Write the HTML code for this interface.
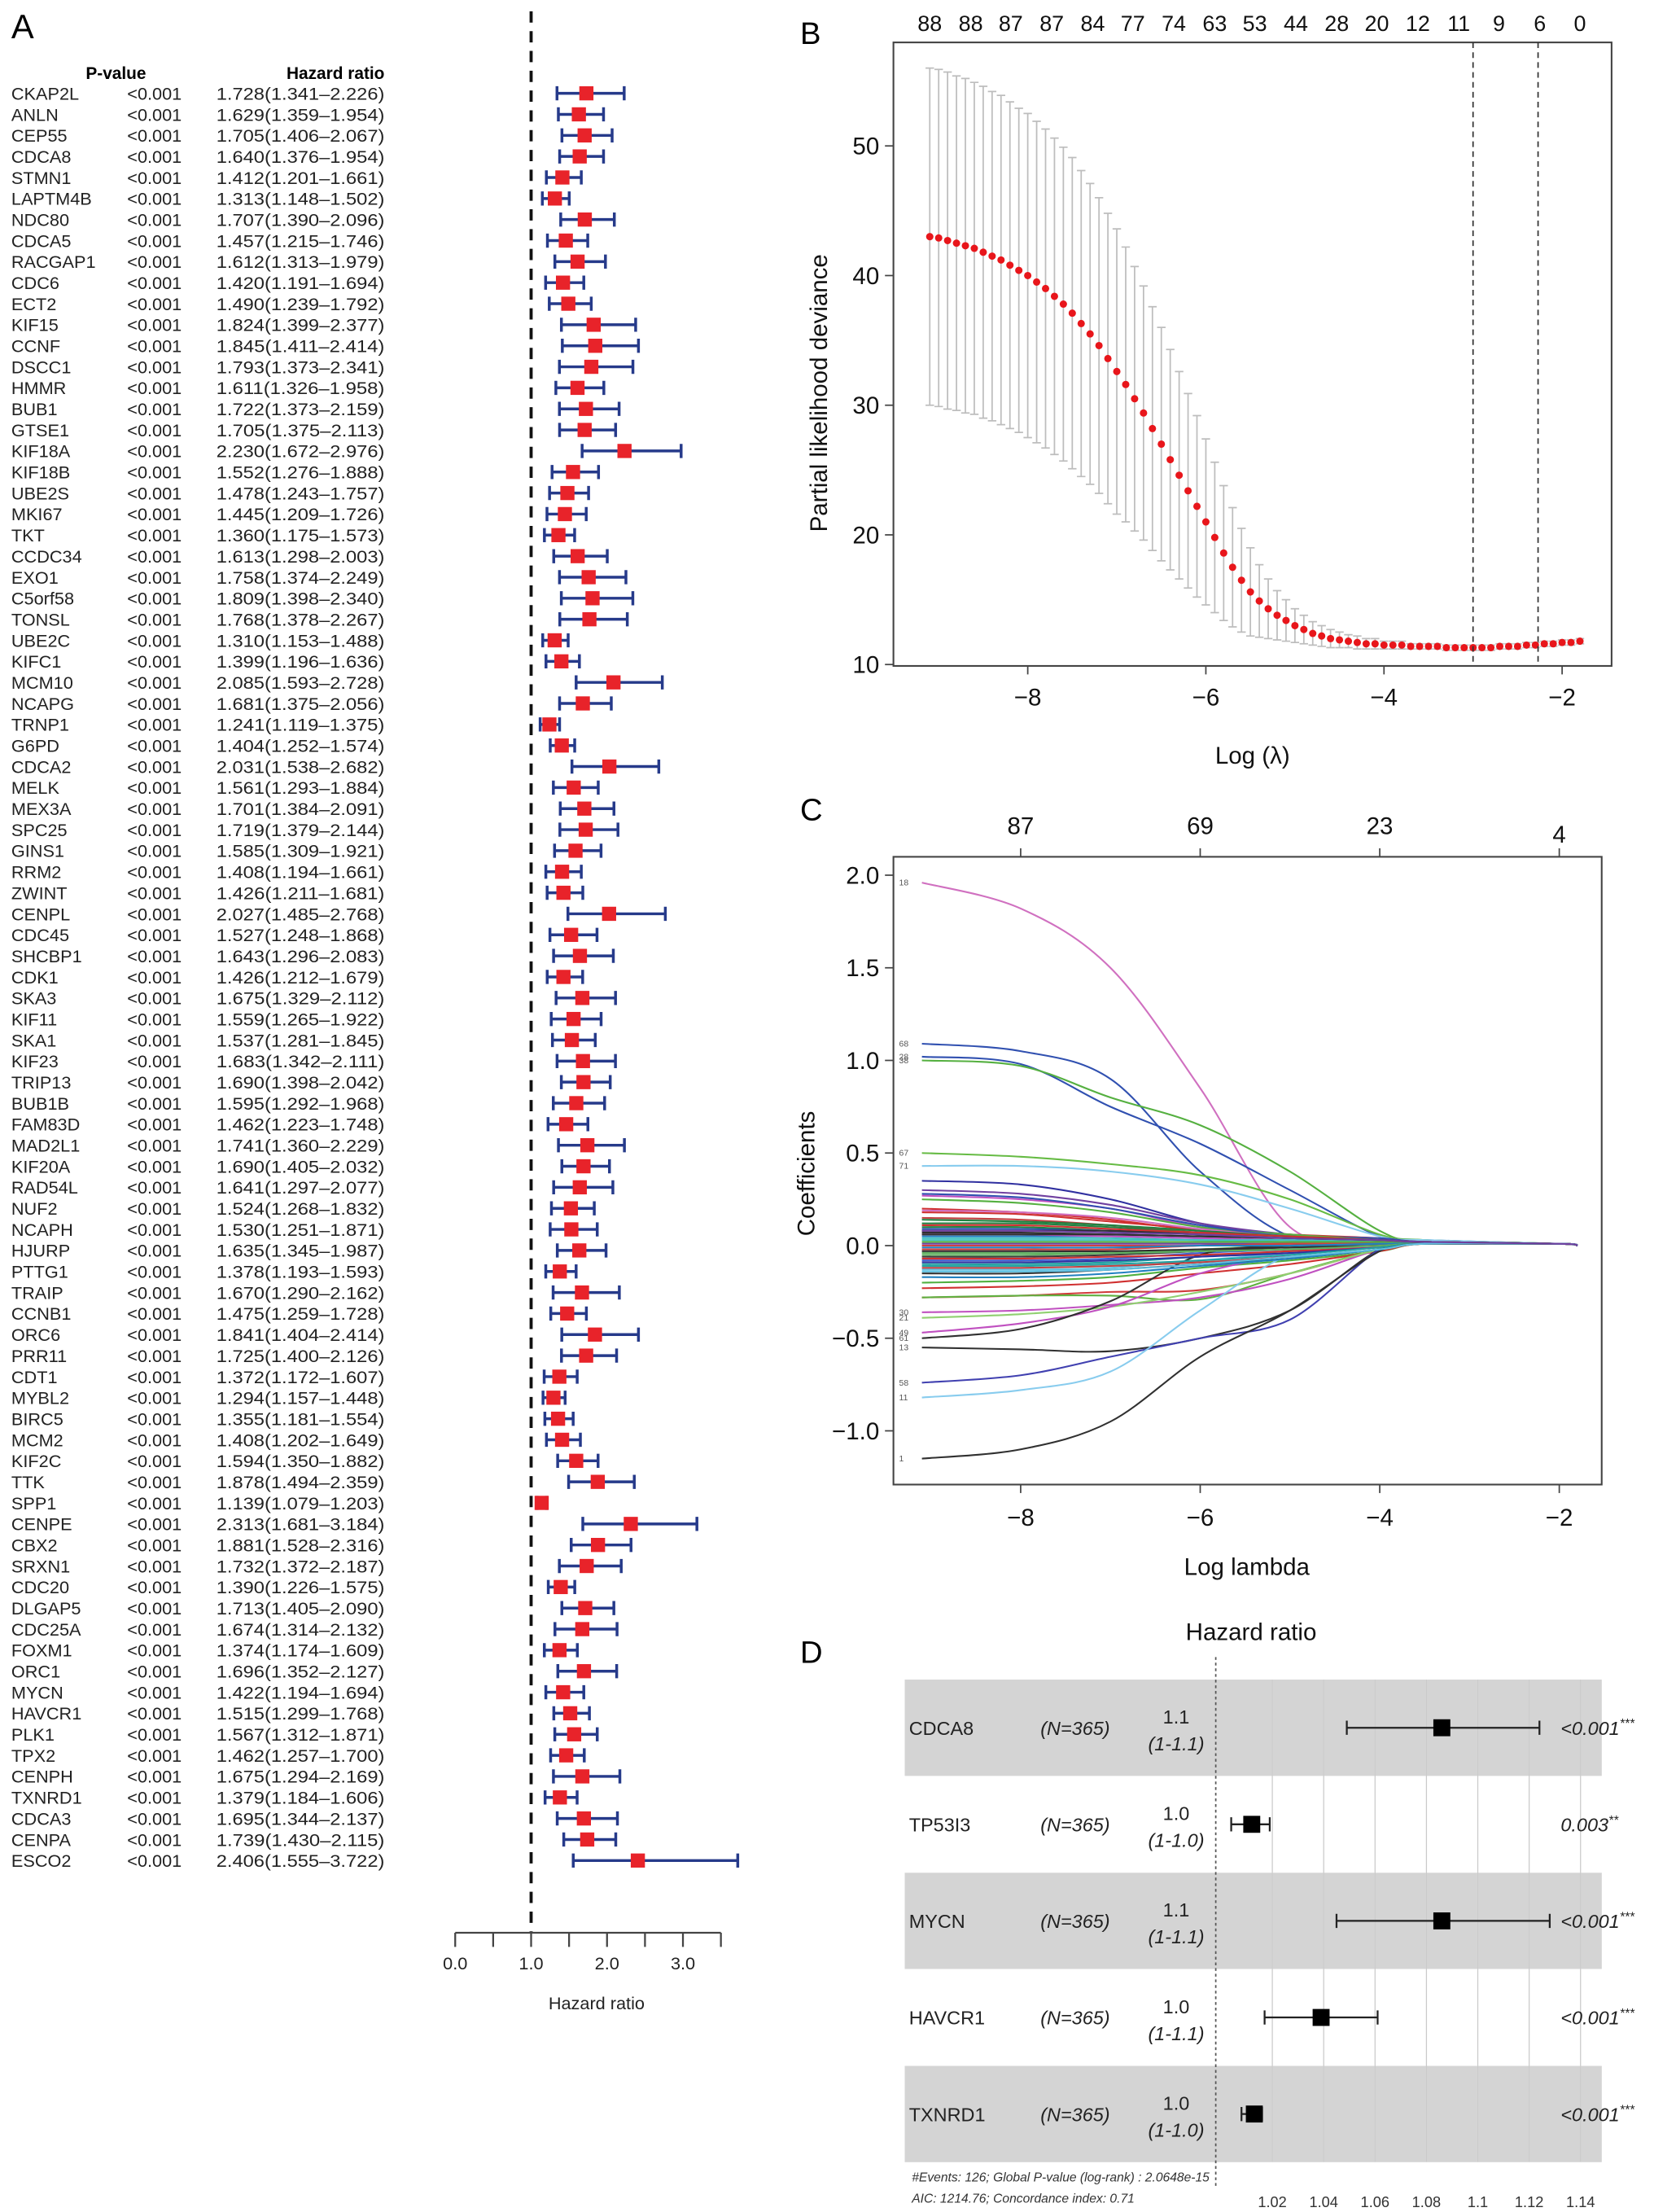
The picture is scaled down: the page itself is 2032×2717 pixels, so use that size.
<!DOCTYPE html>
<html><head><meta charset="utf-8">
<style>
html,body{margin:0;padding:0;background:#fff;}
svg{display:block;font-family:"Liberation Sans",sans-serif;}
</style></head>
<body>
<svg id="fig" xmlns="http://www.w3.org/2000/svg" width="2032" height="2717" viewBox="0 0 1170 1564.5" preserveAspectRatio="none">
<rect x="0" y="0" width="1170" height="1564.5" fill="#fff"/>
<g id="pa"></g>
<g id="pb"></g>
<g id="pc"></g>
<g id="pd"></g>
</svg>
<script>
// ---------- Panel A data ----------
const genesA = ["CKAP2L","ANLN","CEP55","CDCA8","STMN1","LAPTM4B","NDC80","CDCA5","RACGAP1","CDC6","ECT2","KIF15","CCNF","DSCC1","HMMR","BUB1","GTSE1","KIF18A","KIF18B","UBE2S","MKI67","TKT","CCDC34","EXO1","C5orf58","TONSL","UBE2C","KIFC1","MCM10","NCAPG","TRNP1","G6PD","CDCA2","MELK","MEX3A","SPC25","GINS1","RRM2","ZWINT","CENPL","CDC45","SHCBP1","CDK1","SKA3","KIF11","SKA1","KIF23","TRIP13","BUB1B","FAM83D","MAD2L1","KIF20A","RAD54L","NUF2","NCAPH","HJURP","PTTG1","TRAIP","CCNB1","ORC6","PRR11","CDT1","MYBL2","BIRC5","MCM2","KIF2C","TTK","SPP1","CENPE","CBX2","SRXN1","CDC20","DLGAP5","CDC25A","FOXM1","ORC1","MYCN","HAVCR1","PLK1","TPX2","CENPH","TXNRD1","CDCA3","CENPA","ESCO2"];
const hrA = [1.728,1.629,1.705,1.640,1.412,1.313,1.707,1.457,1.612,1.420,1.490,1.824,1.845,1.793,1.611,1.722,1.705,2.230,1.552,1.478,1.445,1.360,1.613,1.758,1.809,1.768,1.310,1.399,2.085,1.681,1.241,1.404,2.031,1.561,1.701,1.719,1.585,1.408,1.426,2.027,1.527,1.643,1.426,1.675,1.559,1.537,1.683,1.690,1.595,1.462,1.741,1.690,1.641,1.524,1.530,1.635,1.378,1.670,1.475,1.841,1.725,1.372,1.294,1.355,1.408,1.594,1.878,1.139,2.313,1.881,1.732,1.390,1.713,1.674,1.374,1.696,1.422,1.515,1.567,1.462,1.675,1.379,1.695,1.739,2.406];
const loA = [1.341,1.359,1.406,1.376,1.201,1.148,1.390,1.215,1.313,1.191,1.239,1.399,1.411,1.373,1.326,1.373,1.375,1.672,1.276,1.243,1.209,1.175,1.298,1.374,1.398,1.378,1.153,1.196,1.593,1.375,1.119,1.252,1.538,1.293,1.384,1.379,1.309,1.194,1.211,1.485,1.248,1.296,1.212,1.329,1.265,1.281,1.342,1.398,1.292,1.223,1.360,1.405,1.297,1.268,1.251,1.345,1.193,1.290,1.259,1.404,1.400,1.172,1.157,1.181,1.202,1.350,1.494,1.079,1.681,1.528,1.372,1.226,1.405,1.314,1.174,1.352,1.194,1.299,1.312,1.257,1.294,1.184,1.344,1.430,1.555];
const hiA = [2.226,1.954,2.067,1.954,1.661,1.502,2.096,1.746,1.979,1.694,1.792,2.377,2.414,2.341,1.958,2.159,2.113,2.976,1.888,1.757,1.726,1.573,2.003,2.249,2.340,2.267,1.488,1.636,2.728,2.056,1.375,1.574,2.682,1.884,2.091,2.144,1.921,1.661,1.681,2.768,1.868,2.083,1.679,2.112,1.922,1.845,2.111,2.042,1.968,1.748,2.229,2.032,2.077,1.832,1.871,1.987,1.593,2.162,1.728,2.414,2.126,1.607,1.448,1.554,1.649,1.882,2.359,1.203,3.184,2.316,2.187,1.575,2.090,2.132,1.609,2.127,1.694,1.768,1.871,1.700,2.169,1.606,2.137,2.115,3.722];
const ticksA = [0,0.5,1,1.5,2,2.5,3,3.5];
const tickLabelsA = ["0.0","1.0","2.0","3.0"];
const tickLabelValsA = [0,1,2,3];

// ---------- Panel B data ----------
const lambdaB = [-9.1,-9.0,-8.9,-8.8,-8.7,-8.6,-8.5,-8.4,-8.3,-8.2,-8.1,-8.0,-7.9,-7.8,-7.7,-7.6,-7.5,-7.4,-7.3,-7.2,-7.1,-7.0,-6.9,-6.8,-6.7,-6.6,-6.5,-6.4,-6.3,-6.2,-6.1,-6.0,-5.9,-5.8,-5.7,-5.6,-5.5,-5.4,-5.3,-5.2,-5.1,-5.0,-4.9,-4.8,-4.7,-4.6,-4.5,-4.4,-4.3,-4.2,-4.1,-4.0,-3.9,-3.8,-3.7,-3.6,-3.5,-3.4,-3.3,-3.2,-3.1,-3.0,-2.9,-2.8,-2.7,-2.6,-2.5,-2.4,-2.3,-2.2,-2.1,-2.0,-1.9,-1.8];
const devianceB = [43.0,42.9,42.7,42.5,42.3,42.1,41.8,41.5,41.2,40.8,40.4,40.0,39.5,39.0,38.4,37.8,37.1,36.3,35.5,34.6,33.6,32.6,31.6,30.5,29.4,28.2,27.0,25.8,24.6,23.4,22.2,21.0,19.8,18.6,17.5,16.5,15.6,14.9,14.3,13.8,13.4,13.0,12.7,12.4,12.2,12.0,11.9,11.8,11.7,11.6,11.6,11.5,11.5,11.5,11.4,11.4,11.4,11.4,11.3,11.3,11.3,11.3,11.3,11.3,11.4,11.4,11.4,11.5,11.5,11.6,11.6,11.7,11.7,11.8];
const seB = [13,13,13,12.9,12.9,12.8,12.8,12.7,12.7,12.6,12.5,12.5,12.4,12.3,12.2,12.1,12.0,11.8,11.6,11.4,11.2,11.0,10.6,10.2,9.8,9.4,9.0,8.5,8.0,7.5,7.0,6.4,5.8,5.2,4.6,4.0,3.4,2.8,2.3,1.9,1.6,1.3,1.1,0.9,0.8,0.7,0.6,0.5,0.5,0.4,0.4,0.3,0.3,0.3,0.2,0.2,0.2,0.2,0.2,0.2,0.2,0.2,0.2,0.2,0.2,0.2,0.2,0.2,0.2,0.2,0.2,0.2,0.2,0.2];
const topCountsB = ["88","88","87","87","84","77","74","63","53","44","28","20","12","11","9","6","0"];
const topCountLambdaB = [-9.1,-8.64,-8.19,-7.73,-7.27,-6.82,-6.36,-5.9,-5.45,-4.99,-4.53,-4.08,-3.62,-3.16,-2.71,-2.25,-1.8];
const vlinesB = [-3.0,-2.27];
const yTicksB = [10,20,30,40,50];
const xTicksB = [-8,-6,-4,-2];

// ---------- Panel C data ----------
const lambdaC = [-9.1,-8,-7,-6,-5,-4,-3.5,-2,-1.8];
const pathIdsC = ["18","68","28","38","67","71","","","","","","","","","","","","","","","","","","","","30","21","49","61","13","58","11","1"];
const pathColorsC = ["#d070c0","#3050b0","#3050b0","#55b040","#66bb44","#88ccee","#3030a0","#7040a0","#c050c0","#d03030","#c04040","#208040","#303030","#2080c0","#40c0c0","#d04040","#60b060","#4060d0","#20a0a0","#60c0e0","#50b040","#d03030","#d03a3a","#60b040","#3a3a3a","#c050c0","#90d070","#c050c0","#303030","#303030","#4040b0","#88ccee","#303030",
 "#d03030","#208040","#3050b0","#303030","#c050c0","#40c0c0","#55b040","#7040a0","#d04040","#2080c0","#303030","#60b060","#d03030","#3030a0","#20a0a0","#c04040","#303030","#55b040","#3050b0","#d070c0","#208040","#d03030","#303030","#2080c0","#60c0e0","#7040a0"];
const pathsC = [
 [1.96,1.82,1.5,0.85,0.1,0.03,0.02,0.01,0],
 [1.09,1.05,0.9,0.4,0.05,0.03,0.02,0.01,0],
 [1.02,0.98,0.75,0.55,0.3,0.05,0.03,0.01,0],
 [1.0,0.97,0.8,0.65,0.4,0.08,0.03,0.01,0],
 [0.5,0.48,0.44,0.38,0.25,0.06,0.03,0.01,0],
 [0.43,0.43,0.4,0.33,0.2,0.05,0.03,0.01,0],
 [0.35,0.33,0.25,0.12,0.05,0.03,0.02,0.01,0],
 [0.3,0.28,0.22,0.12,0.06,0.03,0.02,0.01,0],
 [0.27,0.25,0.2,0.1,0.05,0.03,0.02,0.01,0],
 [0.2,0.18,0.14,0.08,0.05,0.03,0.02,0.01,0],
 [0.15,0.14,0.11,0.07,0.04,0.03,0.02,0.01,0],
 [0.1,0.1,0.08,0.06,0.04,0.03,0.02,0.01,0],
 [0.07,0.07,0.06,0.05,0.04,0.03,0.02,0.01,0],
 [0.05,0.05,0.05,0.04,0.03,0.02,0.02,0.01,0],
 [0.03,0.03,0.03,0.03,0.02,0.02,0.02,0.01,0],
 [-0.02,-0.02,-0.02,0.0,0.01,0.01,0.01,0.01,0],
 [-0.05,-0.05,-0.04,-0.02,0.0,0.01,0.01,0.01,0],
 [-0.08,-0.08,-0.07,-0.04,-0.02,0.0,0.01,0.01,0],
 [-0.1,-0.1,-0.09,-0.06,-0.03,0.0,0.01,0.01,0],
 [-0.13,-0.13,-0.12,-0.08,-0.04,0.0,0.01,0.01,0],
 [-0.2,-0.19,-0.17,-0.12,-0.08,-0.03,0.01,0.01,0],
 [-0.23,-0.22,-0.2,-0.15,-0.1,-0.03,0.01,0.01,0],
 [-0.28,-0.27,-0.25,-0.24,-0.15,-0.02,0.01,0.01,0],
 [-0.28,-0.27,-0.27,-0.29,-0.15,-0.02,0.01,0.01,0],
 [-0.06,-0.06,-0.05,-0.03,-0.01,0.0,0.01,0.01,0],
 [-0.36,-0.35,-0.32,-0.28,-0.18,-0.02,0.01,0.01,0],
 [-0.39,-0.37,-0.33,-0.25,-0.15,-0.02,0.01,0.01,0],
 [-0.47,-0.42,-0.33,-0.15,-0.05,0.0,0.01,0.01,0],
 [-0.5,-0.45,-0.3,-0.05,0.0,0.01,0.01,0.01,0],
 [-0.55,-0.56,-0.57,-0.5,-0.35,-0.02,0.01,0.01,0],
 [-0.74,-0.7,-0.6,-0.5,-0.4,-0.02,0.01,0.01,0],
 [-0.82,-0.78,-0.68,-0.35,-0.05,0.0,0.01,0.01,0],
 [-1.15,-1.1,-0.95,-0.6,-0.35,-0.03,0.01,0.01,0],
 [0.18,0.17,0.13,0.09,0.06,0.04,0.02,0.01,0],
 [0.12,0.12,0.1,0.07,0.05,0.03,0.02,0.01,0],
 [0.09,0.09,0.08,0.07,0.05,0.04,0.02,0.01,0],
 [0.08,0.08,0.08,0.06,0.04,0.03,0.02,0.01,0],
 [0.06,0.06,0.05,0.04,0.03,0.02,0.02,0.01,0],
 [0.04,0.04,0.04,0.03,0.03,0.02,0.02,0.01,0],
 [0.02,0.02,0.02,0.02,0.02,0.02,0.02,0.01,0],
 [0.01,0.01,0.01,0.01,0.01,0.01,0.01,0.01,0],
 [0.0,0.0,0.0,0.0,0.01,0.01,0.01,0.01,0],
 [-0.01,-0.01,-0.01,0.0,0.0,0.01,0.01,0.01,0],
 [-0.03,-0.03,-0.03,-0.02,-0.01,0.0,0.01,0.01,0],
 [-0.04,-0.04,-0.04,-0.03,-0.02,0.0,0.01,0.01,0],
 [-0.07,-0.07,-0.06,-0.05,-0.03,-0.01,0.01,0.01,0],
 [-0.09,-0.09,-0.08,-0.06,-0.04,-0.01,0.01,0.01,0],
 [-0.11,-0.11,-0.1,-0.08,-0.05,-0.01,0.01,0.01,0],
 [-0.12,-0.12,-0.11,-0.09,-0.06,-0.02,0.01,0.01,0],
 [-0.15,-0.15,-0.13,-0.1,-0.07,-0.02,0.01,0.01,0],
 [0.25,0.23,0.18,0.1,0.06,0.03,0.02,0.01,0],
 [0.28,0.26,0.2,0.11,0.05,0.03,0.02,0.01,0],
 [0.19,0.18,0.15,0.09,0.05,0.03,0.02,0.01,0],
 [0.14,0.13,0.11,0.08,0.05,0.03,0.02,0.01,0],
 [0.11,0.11,0.09,0.07,0.05,0.03,0.02,0.01,0],
 [0.06,0.06,0.06,0.05,0.04,0.03,0.02,0.01,0],
 [-0.17,-0.17,-0.15,-0.11,-0.07,-0.02,0.01,0.01,0],
 [-0.14,-0.14,-0.13,-0.1,-0.06,-0.02,0.01,0.01,0],
 [0.08,0.08,0.07,0.06,0.04,0.03,0.02,0.01,0]
];
const yTicksC = [-1.0,-0.5,0.0,0.5,1.0,1.5,2.0];
const xTicksC = [-8,-6,-4,-2];
const topCountsC = ["87","69","23","4"];

// ---------- Panel D data ----------
const genesD = ["CDCA8","TP53I3","MYCN","HAVCR1","TXNRD1"];
const hrD = [1.086,1.012,1.086,1.039,1.013];
const loD = [1.049,1.004,1.045,1.017,1.008];
const hiD = [1.124,1.019,1.128,1.061,1.016];
const hrTextD = ["1.1","1.0","1.1","1.0","1.0"];
const ciTextD = ["(1-1.1)","(1-1.0)","(1-1.1)","(1-1.1)","(1-1.0)"];
const pTextD = ["<0.001","0.003","<0.001","<0.001","<0.001"];
const starD = ["***","**","***","***","***"];
const xTicksD = [1.02,1.04,1.06,1.08,1.1,1.12,1.14];
const xTickLabelsD = ["1.02","1.04","1.06","1.08","1.1","1.12","1.14"];

const NS="http://www.w3.org/2000/svg";
function mk(parent,tag,attrs,text){const e=document.createElementNS(NS,tag);for(const k in attrs)e.setAttribute(k,attrs[k]);if(text!==undefined)e.textContent=text;parent.appendChild(e);return e;}
function fmt(v){return v.toFixed(3);}

// ================= Panel A =================
(function(){
const g=document.getElementById('pa');
const xA=v=>322+v*53.7;
const rowY=i=>66+i*14.88;
let t=mk(g,'text',{x:8,y:27,'font-size':24});t.textContent='A';


t=mk(g,'text',{x:82,y:56,'font-size':12,'font-weight':'bold','text-anchor':'middle'},'P-value');


t=mk(g,'text',{x:272,y:56,'font-size':12,'font-weight':'bold','text-anchor':'end'},'Hazard ratio');


let l=mk(g,'line',{x1:xA(1),x2:xA(1),y1:8,y2:1367,stroke:'#111','stroke-width':2.2,'stroke-dasharray':'8,6'});


for(let i=0;i<genesA.length;i++){
 const y=rowY(i);
 const row=mk(g,'g',{});
 
 
 let a=mk(row,'text',{x:8,y:y+4.5,'font-size':12.5,fill:'#222'},genesA[i]);
 
 
 a=mk(row,'text',{x:90,y:y+4.5,'font-size':12.5,fill:'#222'},'<0.001');
 
 
 a=mk(row,'text',{x:153,y:y+4.5,'font-size':12.5,fill:'#222',textLength:119,lengthAdjust:'spacingAndGlyphs'},fmt(hrA[i])+'('+fmt(loA[i])+'\u2013'+fmt(hiA[i])+')');
 
 
 const x0=xA(loA[i]),x1=xA(hiA[i]),xm=xA(hrA[i]);
 const ci=mk(row,'path',{d:`M${x0},${y}H${x1}M${x0},${y-5}V${y+5}M${x1},${y-5}V${y+5}`,stroke:'#263a8a','stroke-width':2,fill:'none'});
 
 
 const sq=mk(row,'rect',{x:xm-5,y:y-5,width:10,height:10,fill:'#e8232a'});
 
 
}
const ax=mk(g,'g',{});


mk(ax,'line',{x1:xA(0),x2:xA(3.5),y1:1367,y2:1367,stroke:'#444','stroke-width':1.3});
ticksA.forEach(v=>mk(ax,'line',{x1:xA(v),x2:xA(v),y1:1367,y2:1377,stroke:'#444','stroke-width':1.3}));
tickLabelValsA.forEach((v,i)=>{const tt=mk(ax,'text',{x:xA(v),y:1393,'font-size':12.5,'text-anchor':'middle',fill:'#222'},tickLabelsA[i]);
 
 });
t=mk(g,'text',{x:422,y:1421,'font-size':12.5,'text-anchor':'middle',fill:'#222'},'Hazard ratio');


})();

// ================= Panel B =================
(function(){
const g=document.getElementById('pb');
const xB=v=>979+(v+4)*63;
const yB=v=>470-(v-10)*9.17;
let t=mk(g,'text',{x:566,y:31,'font-size':22},'B');


let r=mk(g,'rect',{x:632,y:30,width:508,height:441,fill:'none',stroke:'#444','stroke-width':1.2});


topCountsB.forEach((c,i)=>{const tt=mk(g,'text',{x:xB(topCountLambdaB[i]),y:22,'font-size':15.5,'text-anchor':'middle',fill:'#111'},c);
 
 });
yTicksB.forEach(v=>{mk(g,'line',{x1:626,x2:632,y1:yB(v),y2:yB(v),stroke:'#444'});
 const tt=mk(g,'text',{x:622,y:yB(v)+6,'font-size':17,'text-anchor':'end',fill:'#111'},String(v));
 
 });
xTicksB.forEach(v=>{mk(g,'line',{x1:xB(v),x2:xB(v),y1:471,y2:477,stroke:'#444'});
 const tt=mk(g,'text',{x:xB(v),y:499,'font-size':17,'text-anchor':'middle',fill:'#111'},'\u2212'+Math.abs(v));
 
 });
t=mk(g,'text',{x:886,y:540,'font-size':17,'text-anchor':'middle',fill:'#111'},'Log (\u03bb)');


t=mk(g,'text',{x:0,y:0,'font-size':17,'text-anchor':'middle',fill:'#111',transform:'translate(585,278) rotate(-90)'},'Partial likelihood deviance');


lambdaB.forEach((lv,i)=>{
 const x=xB(lv),up=yB(devianceB[i]+seB[i]),lo=yB(devianceB[i]-seB[i]);
 const eb=mk(g,'path',{d:`M${x},${up}V${lo}M${x-3},${up}H${x+3}M${x-3},${lo}H${x+3}`,stroke:'#bdbdbd','stroke-width':1,fill:'none'});
 
 
});
lambdaB.forEach((lv,i)=>{
 const c=mk(g,'circle',{cx:xB(lv),cy:yB(devianceB[i]),r:2.6,fill:'#e8161b'});
 
 
});
vlinesB.forEach(v=>{const ln=mk(g,'line',{x1:xB(v),x2:xB(v),y1:30,y2:471,stroke:'#333','stroke-width':1,'stroke-dasharray':'4,3'});
 
 });
})();

// ================= Panel C =================
(function(){
const g=document.getElementById('pc');
const xC=v=>976+(v+4)*63.5;
const yC=v=>881-v*131;
let t=mk(g,'text',{x:566,y:580,'font-size':22},'C');


const clip=mk(g,'clipPath',{id:'cclip'});mk(clip,'rect',{x:632,y:606,width:501,height:444});
const lines=mk(g,'g',{'clip-path':'url(#cclip)'});


pathsC.forEach((vals,k)=>{
 const pts=vals.map((v,i)=>[xC(lambdaC[i]),yC(v)]);
 let d=`M${pts[0][0]},${pts[0][1]}`;
 for(let i=0;i<pts.length-1;i++){
  const p0=pts[Math.max(0,i-1)],p1=pts[i],p2=pts[i+1],p3=pts[Math.min(pts.length-1,i+2)];
  const c1=[p1[0]+(p2[0]-p0[0])/6,p1[1]+(p2[1]-p0[1])/6],c2=[p2[0]-(p3[0]-p1[0])/6,p2[1]-(p3[1]-p1[1])/6];
  d+=`C${c1[0]},${c1[1]} ${c2[0]},${c2[1]} ${p2[0]},${p2[1]}`;
 }
 const p=mk(lines,'path',{d:d,stroke:pathColorsC[k]||'#303030','stroke-width':1.2,fill:'none'});
 
 
 if(pathIdsC[k]){const tt=mk(g,'text',{x:636,y:yC(vals[0])+2,'font-size':6,fill:'#555'},pathIdsC[k]);
  
  }
});
let r=mk(g,'rect',{x:632,y:606,width:501,height:444,fill:'none',stroke:'#444','stroke-width':1.2});


yTicksC.forEach(v=>{mk(g,'line',{x1:626,x2:632,y1:yC(v),y2:yC(v),stroke:'#444'});
 const tt=mk(g,'text',{x:622,y:yC(v)+6,'font-size':17,'text-anchor':'end',fill:'#111'},(v<0?'\u2212':'')+Math.abs(v).toFixed(1));
 
 });
xTicksC.forEach((v,i)=>{mk(g,'line',{x1:xC(v),x2:xC(v),y1:1050,y2:1056,stroke:'#444'});
 let tt=mk(g,'text',{x:xC(v),y:1079,'font-size':17,'text-anchor':'middle',fill:'#111'},'\u2212'+Math.abs(v));
 
 
 mk(g,'line',{x1:xC(v),x2:xC(v),y1:600,y2:606,stroke:'#444'});
 tt=mk(g,'text',{x:xC(v),y:i==3?596:590,'font-size':17,'text-anchor':'middle',fill:'#111'},topCountsC[i]);
 
 });
t=mk(g,'text',{x:882,y:1114,'font-size':17,'text-anchor':'middle',fill:'#111'},'Log lambda');


t=mk(g,'text',{x:0,y:0,'font-size':17,'text-anchor':'middle',fill:'#111',transform:'translate(576,830) rotate(-90)'},'Coefficients');


})();

// ================= Panel D =================
(function(){
const g=document.getElementById('pd');
const xD=v=>900+(v-1.02)*1817;
const rowY=i=>1222+i*68.3;
let t=mk(g,'text',{x:566,y:1176,'font-size':22},'D');


t=mk(g,'text',{x:885,y:1160,'font-size':17,'text-anchor':'middle',fill:'#111'},'Hazard ratio');


genesD.forEach((gn,i)=>{if(i%2==0){const b=mk(g,'rect',{x:640,y:rowY(i)-34,width:493,height:68,fill:'#d4d4d4'});
 
 }});
xTicksD.forEach(v=>{const ln=mk(g,'line',{x1:xD(v),x2:xD(v),y1:1188,y2:1529,stroke:'#e6e6e6','stroke-width':0.8});
 
 });
genesD.forEach((gn,i)=>{if(i%2==0){mk(g,'rect',{x:640,y:rowY(i)-34,width:493,height:68,fill:'#d4d4d4','fill-opacity':0.75});}});
xTicksD.forEach(v=>mk(g,'line',{x1:xD(v),x2:xD(v),y1:1188,y2:1529,stroke:'#c9c9c9','stroke-width':0.6}));
let rl=mk(g,'line',{x1:860,x2:860,y1:1172,y2:1546,stroke:'#555','stroke-width':1,'stroke-dasharray':'2,2'});


genesD.forEach((gn,i)=>{
 const y=rowY(i);
 const row=mk(g,'g',{});
 
 
 let a=mk(row,'text',{x:643,y:y+5,'font-size':13.5,fill:'#222'},gn);
 
 
 a=mk(row,'text',{x:736,y:y+5,'font-size':13.5,'font-style':'italic',fill:'#222'},'(N=365)');
 
 
 a=mk(row,'text',{x:832,y:y-3,'font-size':13.5,'text-anchor':'middle',fill:'#222'},hrTextD[i]);
 
 
 a=mk(row,'text',{x:832,y:y+16,'font-size':13.5,'text-anchor':'middle','font-style':'italic',fill:'#222'},ciTextD[i]);
 
 
 a=mk(row,'text',{x:1104,y:y+5,'font-size':13.5,'font-style':'italic',fill:'#222'});
 
 
 a.textContent=pTextD[i];
 mk(a,'tspan',{'font-size':9,dy:-5},starD[i]);
 const x0=xD(loD[i]),x1=xD(hiD[i]),xm=xD(hrD[i]);
 const ci=mk(row,'path',{d:`M${x0},${y}H${x1}M${x0},${y-5}V${y+5}M${x1},${y-5}V${y+5}`,stroke:'#222','stroke-width':1.3,fill:'none'});
 
 
 const sq=mk(row,'rect',{x:xm-6,y:y-6,width:12,height:12,fill:'#000'});
 
 
});
xTicksD.forEach((v,i)=>{const tt=mk(g,'text',{x:xD(v),y:1561,'font-size':10.5,'text-anchor':'middle',fill:'#333'},xTickLabelsD[i]);
 
 });
t=mk(g,'text',{x:645,y:1543,'font-size':9,'font-style':'italic',fill:'#333'},'#Events: 126; Global P-value (log-rank) : 2.0648e-15');


t=mk(g,'text',{x:645,y:1558,'font-size':9,'font-style':'italic',fill:'#333'},'AIC: 1214.76; Concordance index: 0.71');


})();
</script>
</body></html>
